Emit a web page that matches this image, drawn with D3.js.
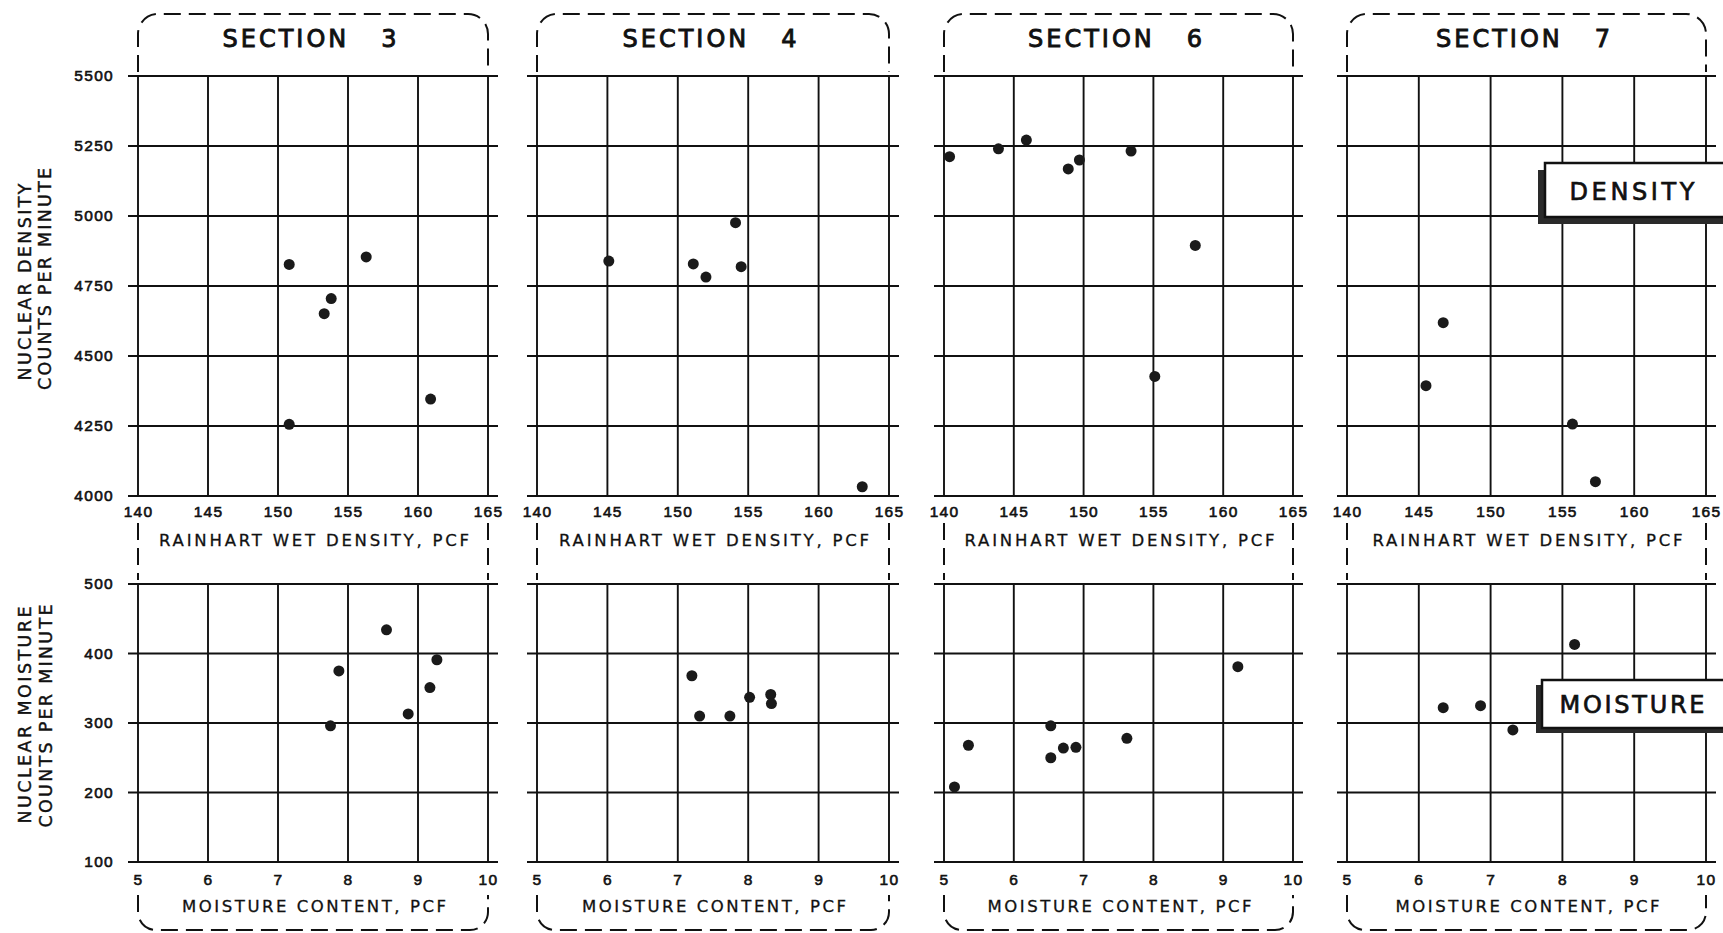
<!DOCTYPE html>
<html>
<head>
<meta charset="utf-8">
<script src="https://cdn.jsdelivr.net/npm/d3@7"></script>
<style>
  html, body { margin: 0; padding: 0; background: #fff; }
  svg { display: block; font-family: "DejaVu Sans", sans-serif; }
  text { fill: #111; }
</style>
</head>
<body>
<script>
// ---------------- DATA ----------------
const sectionNumbers = ["3", "4", "6", "7"];

const densityTicks = [140, 145, 150, 155, 160, 165];
const densityCountTicks = [4000, 4250, 4500, 4750, 5000, 5250, 5500];
const moistureTicks = [5, 6, 7, 8, 9, 10];
const moistureCountTicks = [100, 200, 300, 400, 500];

// Density: Rainhart wet density (pcf) vs nuclear density counts per minute
const densityX3 = [150.8, 156.3, 153.8, 153.3, 150.8, 160.9];
const densityY3 = [4827, 4854, 4705, 4651, 4256, 4346];
const densityX4 = [145.1, 151.1, 152.0, 154.1, 154.5, 163.1];
const densityY4 = [4839, 4829, 4782, 4976, 4819, 4033];
const densityX6 = [140.4, 143.9, 145.9, 148.9, 149.7, 153.4, 158.0, 155.1];
const densityY6 = [5212, 5240, 5271, 5168, 5200, 5232, 4895, 4427];
const densityX7 = [146.7, 145.5, 155.7, 157.3];
const densityY7 = [4619, 4394, 4257, 4051];

// Moisture: moisture content (pcf) vs nuclear moisture counts per minute
const moistureX3 = [8.55, 7.87, 7.75, 8.86, 9.17, 9.27];
const moistureY3 = [434, 375, 296, 313, 351, 391];
const moistureX4 = [7.20, 7.31, 7.74, 8.02, 8.32, 8.33];
const moistureY4 = [368, 310, 310, 337, 341, 328];
const moistureX6 = [5.15, 5.35, 6.53, 6.53, 6.71, 6.89, 7.62, 9.21];
const moistureY6 = [208, 268, 296, 250, 264, 265, 278, 381];
const moistureX7 = [8.17, 6.34, 6.86, 7.31];
const moistureY7 = [413, 322, 325, 290];

const densityXs = [densityX3, densityX4, densityX6, densityX7];
const densityYs = [densityY3, densityY4, densityY6, densityY7];
const moistureXs = [moistureX3, moistureX4, moistureX6, moistureX7];
const moistureYs = [moistureY3, moistureY4, moistureY6, moistureY7];

// ---------------- LAYOUT ----------------
const W = 1723, H = 933;
const panelLeft = [138, 537, 944, 1347];
const panelRight = [488, 889, 1293, 1706];
const topY0 = 76, topY1 = 496;
const botY0 = 584, botY1 = 862;
const ext = 10;
const ink = "#111";

const svg = d3.select("body").append("svg").attr("width", W).attr("height", H);
svg.append("rect").attr("width", W).attr("height", H).attr("fill", "#fff");

function grid(g, xs, ys, xt, yt, L, R) {
  g.selectAll("line.h").data(yt).join("line").attr("class", "h")
    .attr("x1", L - ext).attr("x2", R + ext)
    .attr("y1", d => ys(d)).attr("y2", d => ys(d))
    .attr("stroke", ink).attr("stroke-width", 1.9);
  const yr = ys.range();
  g.selectAll("line.v").data(xt).join("line").attr("class", "v")
    .attr("x1", d => xs(d)).attr("x2", d => xs(d))
    .attr("y1", Math.min(...yr)).attr("y2", Math.max(...yr))
    .attr("stroke", ink).attr("stroke-width", 1.9);
}

function styleAxis(a) {
  a.select(".domain").remove();
  a.selectAll(".tick line").remove();
  a.selectAll("text").attr("font-size", 15.5).attr("font-weight", "normal")
    .attr("letter-spacing", 1.3).attr("fill", ink)
    .attr("stroke", ink).attr("stroke-width", 0.6);
}

const frame = svg.append("g").attr("fill", "none").attr("stroke", ink)
  .attr("stroke-width", 2).attr("stroke-dasharray", "17,8");

panelLeft.forEach((L, i) => {
  const R = panelRight[i];
  const g = svg.append("g");

  const xD = d3.scaleLinear().domain([140, 165]).range([L, R]);
  const yD = d3.scaleLinear().domain([4000, 5500]).range([topY1, topY0]);
  const xM = d3.scaleLinear().domain([5, 10]).range([L, R]);
  const yM = d3.scaleLinear().domain([100, 500]).range([botY1, botY0]);

  // dashed frames
  const r1 = 20, r2 = 18;
  frame.append("path").attr("d",
    `M${L},72 V${14 + r1} A${r1},${r1} 0 0 1 ${L + r1},14 H${R - r1} A${r1},${r1} 0 0 1 ${R},${14 + r1} V72`);
  frame.append("path").attr("d", `M${L},523 V580 M${R},523 V580`);
  frame.append("path").attr("d",
    `M${L},895 V${930 - r2} A${r2},${r2} 0 0 0 ${L + r2},930 H${R - r2} A${r2},${r2} 0 0 0 ${R},${930 - r2} V895`);

  // section title
  g.append("text").attr("x", (L + R) / 2 - 2).attr("y", 47)
    .attr("text-anchor", "middle").attr("font-size", 24)
    .attr("stroke", ink).attr("stroke-width", 0.9)
    .attr("letter-spacing", 3).style("white-space", "pre")
    .text("SECTION   " + sectionNumbers[i]);

  // grids
  grid(g.append("g"), xD, yD, densityTicks, densityCountTicks, L, R);
  grid(g.append("g"), xM, yM, moistureTicks, moistureCountTicks, L, R);

  // x axes (labels)
  const ax1 = g.append("g").attr("transform", `translate(0,${topY1})`)
    .call(d3.axisBottom(xD).tickValues(densityTicks).tickSize(0).tickPadding(10).tickFormat(d3.format("d")));
  styleAxis(ax1);
  const ax2 = g.append("g").attr("transform", `translate(0,${botY1})`)
    .call(d3.axisBottom(xM).tickValues(moistureTicks).tickSize(0).tickPadding(12).tickFormat(d3.format("d")));
  styleAxis(ax2);

  // x axis titles
  g.append("text").attr("x", (L + R) / 2 + 1).attr("y", 545.5)
    .attr("text-anchor", "middle").attr("font-size", 16.5)
    .attr("stroke", ink).attr("stroke-width", 0.3)
    .attr("textLength", 310).attr("lengthAdjust", "spacing")
    .text("RAINHART WET DENSITY, PCF");
  g.append("text").attr("x", (L + R) / 2 + 1).attr("y", 911.5)
    .attr("text-anchor", "middle").attr("font-size", 16.5)
    .attr("stroke", ink).attr("stroke-width", 0.3)
    .attr("textLength", 264).attr("lengthAdjust", "spacing")
    .text("MOISTURE CONTENT, PCF");

  // y axes only on first panel
  if (i === 0) {
    const ay1 = g.append("g").attr("transform", `translate(${L},0)`)
      .call(d3.axisLeft(yD).tickValues(densityCountTicks).tickSize(0).tickPadding(24).tickFormat(d3.format("d")));
    styleAxis(ay1);
    const ay2 = g.append("g").attr("transform", `translate(${L},0)`)
      .call(d3.axisLeft(yM).tickValues(moistureCountTicks).tickSize(0).tickPadding(24).tickFormat(d3.format("d")));
    styleAxis(ay2);
  }

  // points
  g.append("g").selectAll("circle").data(densityXs[i].map((x, k) => [x, densityYs[i][k]]))
    .join("circle").attr("cx", d => xD(d[0])).attr("cy", d => yD(d[1])).attr("r", 5.5)
    .attr("fill", "#1a1a1a");
  g.append("g").selectAll("circle").data(moistureXs[i].map((x, k) => [x, moistureYs[i][k]]))
    .join("circle").attr("cx", d => xM(d[0])).attr("cy", d => yM(d[1])).attr("r", 5.5)
    .attr("fill", "#1a1a1a");
});

// y axis titles
function yTitle(cx, cy, len, txt) {
  svg.append("text").attr("transform", `translate(${cx},${cy}) rotate(-90)`)
    .attr("text-anchor", "middle").attr("font-size", 17.5)
    .attr("stroke", ink).attr("stroke-width", 0.4)
    .attr("textLength", len).attr("lengthAdjust", "spacing").text(txt);
}
yTitle(31, 282, 197, "NUCLEAR DENSITY");
yTitle(51, 279, 222, "COUNTS PER MINUTE");
yTitle(31, 715, 217, "NUCLEAR MOISTURE");
yTitle(52, 716, 223, "COUNTS PER MINUTE");

// legend-like labels with shadowed boxes
function tag(x, y, h, shadowDx, shadowDy, txt, baseline, len) {
  const g = svg.append("g");
  g.append("rect").attr("x", x - shadowDx).attr("y", y + shadowDy).attr("width", W - x + 20).attr("height", h)
    .attr("fill", "#2a2a2a");
  g.append("rect").attr("x", x).attr("y", y).attr("width", W - x + 20).attr("height", h)
    .attr("fill", "#fff").attr("stroke", ink).attr("stroke-width", 2.5);
  g.append("text").attr("x", 1632).attr("y", baseline).attr("text-anchor", "middle")
    .attr("font-size", 24).attr("stroke", ink).attr("stroke-width", 0.7)
    .attr("textLength", len).attr("lengthAdjust", "spacing").text(txt);
}
tag(1545, 163, 54, 7, 7, "DENSITY", 200, 125);
tag(1542, 680, 48, 6, 5, "MOISTURE", 713, 145);
</script>
</body>
</html>
